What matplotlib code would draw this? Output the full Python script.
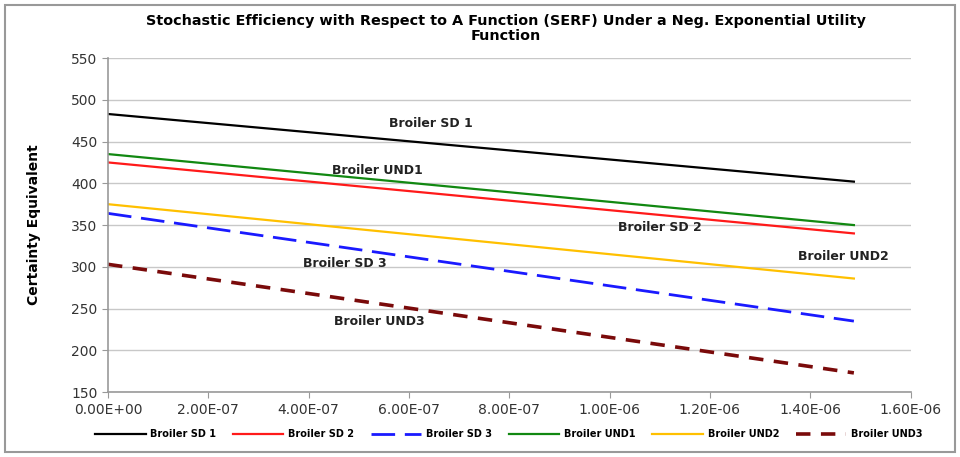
import matplotlib
matplotlib.use("Agg")
import matplotlib.pyplot as plt
from matplotlib.patches import Rectangle

# risk aversion coefficients (start / end of each SERF curve)
rac = [0.0, 1.487e-6]

names = ["Broiler SD 1", "Broiler SD 2", "Broiler SD 3",
         "Broiler UND1", "Broiler UND2", "Broiler UND3"]
sd1 = [483, 402]
sd2 = [425, 340]
sd3 = [364, 235]
und1 = [435, 350]
und2 = [375, 286]
und3 = [303, 173]

# in-plot labels: (text, x, y)
labels = [("Broiler SD 1", 6.43e-7, 472),
          ("Broiler UND1", 5.37e-7, 415),
          ("Broiler SD 2", 1.10e-6, 347),
          ("Broiler UND2", 1.467e-6, 312),
          ("Broiler SD 3", 4.73e-7, 304),
          ("Broiler UND3", 5.41e-7, 235)]

fig = plt.figure(figsize=(9.6, 4.57), dpi=100)
ax = fig.add_axes([0.1125, 0.142, 0.836, 0.731])

ax.plot(rac, sd1, color="black", lw=1.6, label=names[0])
ax.plot(rac, sd2, color="#ff1a1a", lw=1.6, label=names[1])
ax.plot(rac, sd3, color="#1a1aff", lw=2.0, dashes=(8.5, 3.5), label=names[2])
ax.plot(rac, und1, color="#118811", lw=1.6, label=names[3])
ax.plot(rac, und2, color="#ffc000", lw=1.6, label=names[4])
ax.plot(rac, und3, color="#7a0a0a", lw=2.6, dashes=(4, 2.9), label=names[5])

for txt, x, y in labels:
    ax.text(x, y, txt, ha="center", va="center", fontsize=9, fontweight="bold",
            color="#222222")

ax.set_xlim(0, 1.6e-6)
ax.set_ylim(150, 550)
ax.set_yticks(range(150, 551, 50))
xt = [i * 2e-7 for i in range(9)]
ax.set_xticks(xt)
ax.set_xticklabels(["%.2E" % v for v in xt])
ax.tick_params(axis="both", labelsize=10, color="#999999", length=4,
               labelcolor="#333333")
ax.yaxis.grid(True, color="#c8c8c8", lw=1)
ax.set_axisbelow(True)
for s in ["top", "right"]:
    ax.spines[s].set_visible(False)
for s in ["left", "bottom"]:
    ax.spines[s].set_color("#999999")
    ax.spines[s].set_linewidth(1.2)

ax.set_ylabel("Certainty Equivalent", fontsize=10, fontweight="bold", labelpad=22)
fig.suptitle("Stochastic Efficiency with Respect to A Function (SERF) Under a Neg. Exponential Utility\nFunction",
             x=0.527, y=0.97, fontsize=10.4, fontweight="bold", linespacing=1.15)

fig.legend(loc="lower center", bbox_to_anchor=(0.53, 0.02), ncol=6, frameon=False,
           handlelength=5.2, columnspacing=1.7, handletextpad=0.5,
           prop={"size": 7, "weight": "bold"})

fig.patches.append(Rectangle((0.005, 0.01), 0.99, 0.98, transform=fig.transFigure,
                             fill=False, edgecolor="#999999", lw=1.5))

fig.savefig("out.png", dpi=100)
